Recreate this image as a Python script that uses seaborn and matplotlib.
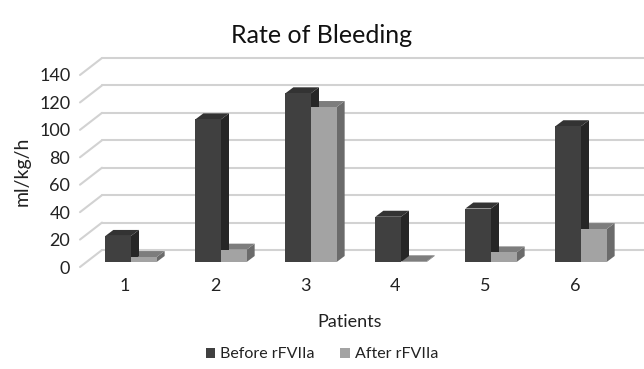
import matplotlib
matplotlib.use("Agg")
import matplotlib.pyplot as plt
import matplotlib.transforms as mtransforms
from matplotlib.patches import Polygon, Patch
import seaborn as sns
import pandas as pd

# values (ml/kg/h)
patients = ["1", "2", "3", "4", "5", "6"]
before = [19, 104, 123, 33, 39, 99]
after = [3.6, 9, 113, 0.5, 7, 24]
series = ["Before rFVIIa", "After rFVIIa"]
yticks = [0, 20, 40, 60, 80, 100, 120, 140]

df = pd.DataFrame({
    "Patients": patients * 2,
    "value": before + after,
    "series": [series[0]] * 6 + [series[1]] * 6,
})

front_col = {series[0]: "#404040", series[1]: "#a3a3a3"}
side_col = {series[0]: "#262626", series[1]: "#6b6b6b"}
top_col = {series[0]: "#333333", series[1]: "#7d7d7d"}

sns.set_style("white")
plt.rcParams["font.family"] = ["Lato", "DejaVu Sans"]

fig = plt.figure(figsize=(6.44, 3.69), dpi=100)
ax = fig.add_axes([80 / 644, 102 / 369, 540 / 644, 192 / 369])

sns.barplot(data=df, x="Patients", y="value", hue="series", order=patients,
            hue_order=series, palette=front_col, width=0.57, gap=0,
            edgecolor="none", legend=False, ax=ax, zorder=3)
ax.set_ylim(0, 140)
ax.set_xlim(-0.5, 5.5)

# pixel offsets for the fake depth
def shift(dx, dy):
    return mtransforms.ScaledTranslation(dx / 100, dy / 100, fig.dpi_scale_trans)

back = ax.transData + shift(22, 17)
mid = ax.transData + shift(6, 5)

# back wall gridlines and side-wall diagonals
inv = ax.transData.inverted()
for t in yticks:
    ax.plot([-0.5, 5.72], [t, t], color="#d2d2d2", lw=1.5, transform=back,
            clip_on=False, zorder=1)
    p0 = ax.transData.transform((-0.5, t))
    q0, q1 = inv.transform(p0), inv.transform(p0 + [22, 17])
    ax.plot([q0[0], q1[0]], [q0[1], q1[1]], color="#d2d2d2", lw=1.5,
            clip_on=False, zorder=1)

# depth in data units
ppx = ax.transData.transform((1, 0))[0] - ax.transData.transform((0, 0))[0]
ppy = ax.transData.transform((0, 1))[1] - ax.transData.transform((0, 0))[1]
ddx, ddy = 8 / ppx, 6 / ppy

bars = list(ax.patches)
for i, bar in enumerate(bars):
    s = series[i // len(patients)]
    bar.set_transform(mid)
    x, w, h = bar.get_x(), bar.get_width(), bar.get_height()
    side = Polygon([(x + w, 0), (x + w, h), (x + w + ddx, h + ddy), (x + w + ddx, ddy)],
                   closed=True, fc=side_col[s], ec="none", transform=mid, zorder=2.5 - i * 0.01)
    top = Polygon([(x, h), (x + w, h), (x + w + ddx, h + ddy), (x + ddx, h + ddy)],
                  closed=True, fc=top_col[s], ec="none", transform=mid, zorder=2.5 - i * 0.01)
    ax.add_patch(side)
    ax.add_patch(top)
    bar.set_zorder(3)

sns.despine(ax=ax, left=True, bottom=True)
ax.set_yticks(yticks)
ax.tick_params(axis="both", length=0, labelsize=13, colors="#222222")
ax.tick_params(axis="y", pad=7)
ax.tick_params(axis="x", pad=8)
ax.set_ylabel("ml/kg/h", fontsize=14, color="#222222", labelpad=6)
ax.set_xlabel("Patients", fontsize=13, color="#222222", labelpad=14)

fig.suptitle("Rate of Bleeding", fontsize=18, color="#111111", y=0.905, va="center")

handles = [Patch(fc=front_col[s], ec="none") for s in series]
fig.legend(handles, series, loc="center", bbox_to_anchor=(0.5, 0.04), ncol=2,
           frameon=False, fontsize=11.5, handlelength=0.6, handleheight=0.6,
           handletextpad=0.3, columnspacing=1.6, labelcolor="#222222")

fig.savefig("out.png", dpi=100)
